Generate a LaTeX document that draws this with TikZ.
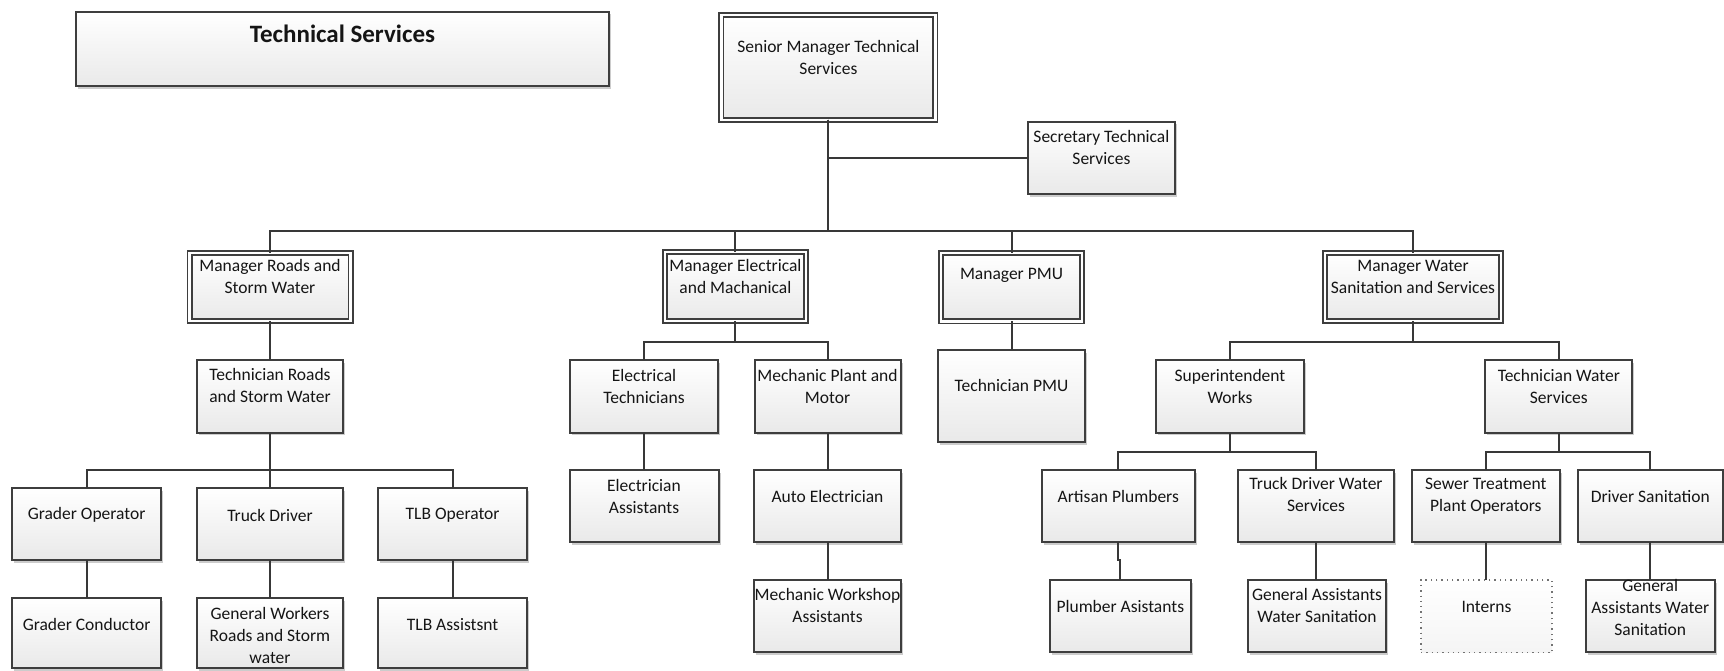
\documentclass[tikz,border=0pt]{standalone}
\usepackage{fontspec}
\setmainfont{Carlito}
\usetikzlibrary{shadows}

\definecolor{edge}{HTML}{3E3E3E}
\definecolor{wire}{HTML}{383838}
\definecolor{ink}{HTML}{151515}
\definecolor{cardlow}{HTML}{E9E9E9}

\newcommand\orgfont{\fontsize{17.5}{22}\selectfont}
\newcommand\headfont{\fontsize{25}{30}\selectfont\bfseries}

% \orgunit[style]{name}{x,y}{width}{height}{text drop}{text}
\newcommand\orgunit[7][card]{%
  \node[#1,minimum width=#4pt,minimum height=#5pt] (#2) at (#3) {};
  \node[cardtext] (#2-text) at ([yshift=-#6pt]#2.north) {#7};}

\tikzset{
  cardbase/.style={draw=edge, line width=2pt, top color=white,
    bottom color=cardlow, inner sep=0pt, outer sep=0pt},
  card/.style={cardbase, drop shadow={shadow xshift=2pt,
    shadow yshift=-2.5pt, opacity=0.2, fill=black}},
  lead/.style={card, double=white, double distance=2.2pt, line width=1.9pt},
  spare/.style={cardbase, draw=black!55, line width=1.3pt,
    dash pattern=on 1.3pt off 4pt, bottom color=black!4},
  cardtext/.style={align=center, font=\orgfont, text=ink, inner sep=0pt},
  wireline/.style={draw=wire, line width=2pt},
}

\begin{document}
\begin{tikzpicture}[x=1pt, y=-1pt]
\fill[white] (0,0) rectangle (1724,670);
\useasboundingbox (0,0) rectangle (1724,670);

% heading panel
\node[card, line width=1.8pt, minimum width=532.4pt, minimum height=74.3pt] (ts) at (342.5,48.85) {};
\node[cardtext, font=\headfont] (ts-text) at ([yshift=-21.7pt]ts.north) {Technical Services};

% top of the structure
\orgunit[lead]{sm}{828.4,67.2}{214}{105}{42.6}{Senior Manager Technical\\Services}
\orgunit{st}{1101.4,157.9}{146.4}{72.3}{26.2}{Secretary Technical\\Services}

% managers
\orgunit[lead]{mr}{270,287}{161}{68}{23.8}{Manager Roads and\\Storm Water}
\orgunit[lead]{me}{735.4,286.8}{141.3}{69}{24.5}{Manager Electrical\\and Machanical}
\orgunit[lead]{mp}{1011.5,287.3}{141}{68.3}{22}{Manager PMU}
\orgunit[lead]{mw}{1413,287}{176}{68}{24.2}{Manager Water\\Sanitation and Services}

% second level
\orgunit{tr}{270,396.3}{146}{72.5}{25.7}{Technician Roads\\and Storm Water}
\orgunit{et}{644,396.3}{148.7}{72.5}{26}{Electrical\\Technicians}
\orgunit{mpm}{827.5,396.3}{146}{72.5}{26}{Mechanic Plant and\\Motor}
\orgunit{tp}{1011.5,396}{147}{92}{35.7}{Technician PMU}
\orgunit{sw}{1230,396.3}{148.8}{72.5}{26}{Superintendent\\Works}
\orgunit{tw}{1558.8,396.3}{147}{72.5}{26}{Technician Water\\Services}

% roads and storm water staff
\orgunit{gop}{86.6,524.2}{149.4}{71.7}{26.7}{Grader Operator}
\orgunit{tdr}{270,524.2}{146.6}{71.7}{26.7}{Truck Driver}
\orgunit{tlbo}{452.6,524.2}{148.6}{71.7}{26.7}{TLB Operator}
\orgunit{gcon}{86.6,633.4}{149.4}{70}{26}{Grader Conductor}
\orgunit{gwk}{270,633.4}{146.6}{70}{37.5}{General Workers\\Roads and Storm\\water}
\orgunit{tlba}{452.6,633.4}{148.6}{70}{26}{TLB Assistsnt}

% electrical and mechanical staff
\orgunit{ea}{644,506.2}{149}{72.3}{26}{Electrician\\Assistants}
\orgunit{ae}{827.5,506.2}{146.4}{72.3}{26}{Auto Electrician}
\orgunit{mws}{827.5,616.2}{146.4}{72.3}{25.3}{Mechanic Workshop\\Assistants}

% water and sanitation staff
\orgunit{ap}{1118.3,506.2}{153.5}{72.3}{26}{Artisan Plumbers}
\orgunit{tdw}{1316,506.2}{156}{72.3}{24}{Truck Driver Water\\Services}
\orgunit{stp}{1485.8,506.2}{148.6}{72.3}{26.3}{Sewer Treatment\\Plant Operators}
\orgunit{ds}{1650.3,506.2}{144.6}{72.3}{26}{Driver Sanitation}
\orgunit{pa}{1120.3,616.2}{140.6}{72.3}{26.7}{Plumber Asistants}
\orgunit{ga1}{1317,616.2}{138}{72.3}{25.5}{General Assistants\\Water Sanitation}
\orgunit[spare]{intn}{1486.5,616.2}{131}{72.3}{26.7}{Interns}
\orgunit{ga2}{1650.2,616.2}{129}{72.3}{27}{General\\Assistants Water\\Sanitation}

% bus levels
\coordinate (b1) at (0,230.7);
\coordinate (b2) at (0,342);
\coordinate (b3) at (0,470);
\coordinate (b4) at (0,452);

% reporting lines
\draw[wireline] (st.west) -- (st.west -| sm.south);
\foreach \c in {mr,me,mp,mw}
  \draw[wireline] (sm.south) -- (sm.south |- b1) -| (\c.north);

\draw[wireline] (mr.south) -- (mr.south |- tr.north);
\foreach \c in {gop,tdr,tlbo}
  \draw[wireline] (tr.south) -- (tr.south |- b3) -| (\c.north);
\draw[wireline] (gop.south) -- (gop.south |- gcon.north);
\draw[wireline] (tdr.south) -- (tdr.south |- gwk.north);
\draw[wireline] (tlbo.south) -- (tlbo.south |- tlba.north);

\foreach \c in {et,mpm}
  \draw[wireline] (me.south) -- (me.south |- b2) -| (\c.north);
\draw[wireline] (et.south) -- (et.south |- ea.north);
\draw[wireline] (mpm.south) -- (mpm.south |- ae.north);
\draw[wireline] (ae.south) -- (ae.south |- mws.north);

\draw[wireline] (mp.south) -- (mp.south |- tp.north);

\foreach \c in {sw,tw}
  \draw[wireline] (mw.south) -- (mw.south |- b2) -| (\c.north);
\foreach \c in {ap,tdw}
  \draw[wireline] (sw.south) -- (sw.south |- b4) -| (\c.north);
\foreach \c in {stp,ds}
  \draw[wireline] (tw.south) -- (tw.south |- b4) -| (\c.north);
\draw[wireline] (ap.south) -- ++(0,18) -| (pa.north);
\draw[wireline] (tdw.south) -- (tdw.south |- ga1.north);
\draw[wireline] (stp.south) -- (stp.south |- intn.north);
\draw[wireline] (ds.south) -- (ds.south |- ga2.north);
\end{tikzpicture}
\end{document}
